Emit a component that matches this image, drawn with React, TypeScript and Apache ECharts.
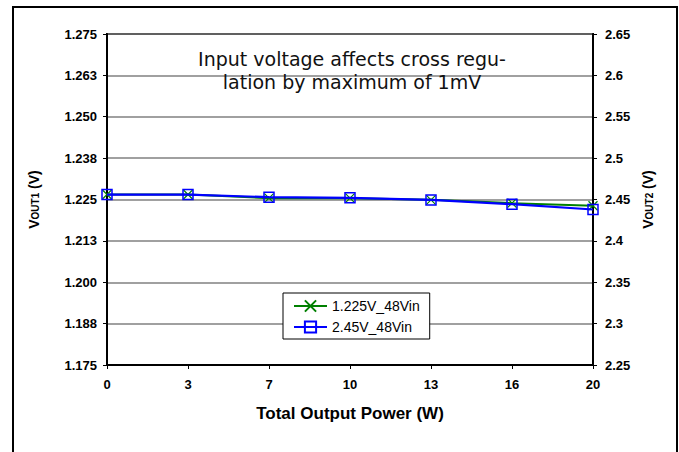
import React, { useEffect, useRef } from "react";
import * as echarts from "echarts";

const categories = ["0", "3", "7", "10", "13", "16", "20"];
const vout1_48Vin = [1.2265, 1.2265, 1.2254, 1.2254, 1.2249, 1.2239, 1.2231];
const vout2_48Vin = [2.456, 2.456, 2.4528, 2.452, 2.4495, 2.4443, 2.4379];
const leftTickLabels = ["1.175", "1.188", "1.200", "1.213", "1.225", "1.238", "1.250", "1.263", "1.275"];
const rightTickLabels = ["2.25", "2.3", "2.35", "2.4", "2.45", "2.5", "2.55", "2.6", "2.65"];
const seriesNames = ["1.225V_48Vin", "2.45V_48Vin"];
const noteLines = ["Input voltage affects cross regu-", "lation by maximum of 1mV"];

const LEFT_MIN = 1.175, LEFT_MAX = 1.275, LEFT_INT = 0.0125;
const RIGHT_MIN = 2.25, RIGHT_MAX = 2.65, RIGHT_INT = 0.05;

const GREEN = "#008000";
const BLUE = "#0000ff";
const FONT = "'Liberation Sans', Arial, sans-serif";
const NOTE_FONT = "'DejaVu Sans', sans-serif";

export default function App() {
  const ref = useRef<HTMLDivElement>(null);
  useEffect(() => {
    const chart = echarts.init(ref.current!, undefined, { renderer: "svg" });
    const nameRich = {
      v: { fontSize: 14, fontWeight: "bold", fontFamily: FONT, color: "#000" },
      s: { fontSize: 10, fontWeight: "bold", fontFamily: FONT, color: "#000", padding: [3, 0, 0, 0] },
    };
    chart.setOption({
      animation: false,
      backgroundColor: "#fff",
      grid: {
        left: 107, right: 86, top: 34, bottom: 87,
        show: true, borderColor: "#000", borderWidth: 2, backgroundColor: "transparent",
        outerBoundsMode: "none",
      },
      legend: {
        left: 283, top: 293,
        orient: "vertical",
        data: seriesNames,
        itemWidth: 33, itemHeight: 14, itemGap: 7,
        padding: [6, 10, 5, 10],
        borderColor: "#000", borderWidth: 1, backgroundColor: "#fff",
        textStyle: { fontFamily: FONT, fontSize: 14, color: "#000" },
      },
      xAxis: {
        type: "category",
        data: categories,
        boundaryGap: false,
        name: "Total Output Power (W)",
        nameLocation: "middle",
        nameGap: 40,
        nameTextStyle: { fontFamily: FONT, fontSize: 17, fontWeight: "bold", color: "#000" },
        axisLine: { lineStyle: { color: "#000", width: 2 } },
        axisTick: { show: true, length: 4, alignWithLabel: true, lineStyle: { color: "#000" } },
        axisLabel: { margin: 13, fontFamily: FONT, fontSize: 13, fontWeight: "bold", color: "#000" },
        splitLine: { show: false },
      },
      yAxis: [
        {
          type: "value",
          min: LEFT_MIN, max: LEFT_MAX, interval: LEFT_INT,
          name: "{v|V}{s|OUT1}{v| (V)}",
          nameLocation: "middle",
          nameGap: 66,
          nameRotate: 90,
          nameTextStyle: { rich: nameRich },
          axisLine: { show: true, lineStyle: { color: "#000", width: 2 } },
          axisTick: { show: true, length: 4, lineStyle: { color: "#000" } },
          axisLabel: {
            margin: 10, fontFamily: FONT, fontSize: 13, fontWeight: "bold", color: "#000",
            formatter: (v: number) => leftTickLabels[Math.round((v - LEFT_MIN) / LEFT_INT)] ?? "",
          },
          splitLine: { show: true, lineStyle: { color: "#808080", width: 1.5 } },
        },
        {
          type: "value",
          position: "right",
          min: RIGHT_MIN, max: RIGHT_MAX, interval: RIGHT_INT,
          name: "{v|V}{s|OUT2}{v| (V)}",
          nameLocation: "middle",
          nameGap: 38,
          nameRotate: 90,
          nameTextStyle: { rich: nameRich },
          axisLine: { show: true, lineStyle: { color: "#000", width: 2 } },
          axisTick: { show: true, length: 4, lineStyle: { color: "#000" } },
          axisLabel: {
            margin: 12, fontFamily: FONT, fontSize: 13, fontWeight: "bold", color: "#000",
            formatter: (v: number) => rightTickLabels[Math.round((v - RIGHT_MIN) / RIGHT_INT)] ?? "",
          },
          splitLine: { show: false },
        },
      ],
      series: [
        {
          name: seriesNames[0],
          type: "line",
          yAxisIndex: 0,
          data: vout1_48Vin,
          color: GREEN,
          lineStyle: { color: GREEN, width: 2 },
          symbol: "path://M0,0L10,10M0,10L10,0",
          symbolSize: 9,
          itemStyle: { color: "transparent", borderColor: GREEN, borderWidth: 1.2 },
          z: 2,
        },
        {
          name: seriesNames[1],
          type: "line",
          yAxisIndex: 1,
          data: vout2_48Vin,
          color: BLUE,
          lineStyle: { color: BLUE, width: 2.2 },
          symbol: "rect",
          symbolSize: 10,
          itemStyle: { color: "transparent", borderColor: BLUE, borderWidth: 1.5 },
          z: 3,
        },
      ],
      graphic: [
        {
          type: "rect",
          shape: { x: 13, y: 7, width: 664, height: 470 },
          style: { fill: "none", stroke: "#000", lineWidth: 2 },
          silent: true,
          z: -1,
        },
        {
          type: "text",
          x: 352, y: 59,
          style: {
            text: noteLines[0],
            fontFamily: NOTE_FONT,
            fontSize: 19, fontWeight: "normal", fill: "#111",
            align: "center", verticalAlign: "middle",
          },
          z: 10,
        },
        {
          type: "text",
          x: 352, y: 82,
          style: {
            text: noteLines[1],
            fontFamily: NOTE_FONT,
            fontSize: 19, fontWeight: "normal", fill: "#111",
            align: "center", verticalAlign: "middle",
          },
          z: 10,
        },
      ],
    });
    return () => chart.dispose();
  }, []);
  return (
    <div
      ref={ref}
      style={{ position: "absolute", left: 0, top: 0, width: 679, height: 452 }}
    />
  );
}
